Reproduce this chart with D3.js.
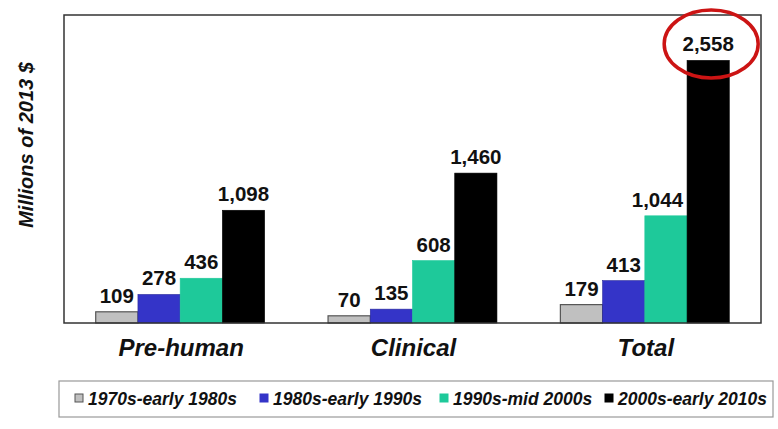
<!DOCTYPE html>
<html><head><meta charset="utf-8">
<script src="https://cdn.jsdelivr.net/npm/d3@7"></script>
<style>body{margin:0;background:#fff}svg{display:block}text{font-family:"Liberation Sans",Arial,sans-serif;font-weight:bold}</style>
</head><body><svg id="c" width="778" height="429"></svg>
<script>
const categories = ["Pre-human", "Clinical", "Total"];
const seriesNames = ["1970s-early 1980s", "1980s-early 1990s", "1990s-mid 2000s", "2000s-early 2010s"];
const s1970 = [109, 70, 179];
const s1980 = [278, 135, 413];
const s1990 = [436, 608, 1044];
const s2000 = [1098, 1460, 2558];
const seriesValues = [s1970, s1980, s1990, s2000];
const colors = ["#c0c0c0", "#3434c8", "#1ec99a", "#000000"];
const strokes = ["#555555", "#2a2a9a", "#1ec99a", "#000000"];
const yLabel = "Millions of 2013 $";

const svg = d3.select("#c");
const L = 64, R = 761, T = 15, B = 323;
const x0 = d3.scaleBand().domain(categories).range([L, R]).paddingInner(0.273).paddingOuter(0.1365);
const x1 = d3.scaleBand().domain(d3.range(seriesNames.length)).range([0, x0.bandwidth()]);
const y = d3.scaleLinear().domain([0, 3000]).range([B, T]);
const fmt = d3.format(",");

const g = svg.append("g");
categories.forEach((c, ci) => {
  seriesValues.forEach((vals, si) => {
    const v = vals[ci];
    const bx = x0(c) + x1(si);
    g.append("rect").attr("x", bx).attr("y", y(v)).attr("width", x1.bandwidth()).attr("height", B - y(v))
      .attr("fill", colors[si]).attr("stroke", strokes[si]).attr("stroke-width", si === 0 ? 1.2 : 0.6);
    const t = g.append("text").attr("y", y(v) - 9).attr("font-size", 20.5).attr("fill", "#111").text(fmt(v));
    const w = t.node().getComputedTextLength();
    const next = si + 1 < seriesValues.length ? seriesValues[si + 1][ci] : null;
    const cx = bx + x1.bandwidth() / 2;
    if (next !== null && y(next) < y(v) - 25 && cx + w / 2 > bx + x1.bandwidth()) {
      t.attr("x", bx + x1.bandwidth() - 4).attr("text-anchor", "end");
    } else {
      t.attr("x", cx).attr("text-anchor", "middle");
    }
  });
  svg.append("text").attr("x", x0(c) + x0.bandwidth() / 2 + 1).attr("y", 356).attr("text-anchor", "middle")
    .attr("font-size", 24).attr("font-style", "italic").attr("fill", "#111").text(c);
});

// plot frame
svg.append("rect").attr("x", L).attr("y", T).attr("width", R - L).attr("height", B - T)
  .attr("fill", "none").attr("stroke", "#333").attr("stroke-width", 1.5);

// y label
svg.append("text").attr("transform", "translate(33,145) rotate(-90)").attr("text-anchor", "middle")
  .attr("font-size", 20).attr("font-style", "italic").attr("fill", "#111").text(yLabel);

// highlight ellipse
const maxV = d3.max(s2000), maxI = s2000.indexOf(maxV);
svg.append("ellipse").attr("cx", x0(categories[maxI]) + x1(3) + x1.bandwidth() / 2 + 3).attr("cy", 44)
  .attr("rx", 47).attr("ry", 34).attr("fill", "none").attr("stroke", "#cc1414").attr("stroke-width", 3.5);

// legend
svg.append("rect").attr("x", 59).attr("y", 381).attr("width", 714).attr("height", 36)
  .attr("fill", "#fff").attr("stroke", "#999").attr("stroke-width", 1.2);
const legX = [75, 260, 440, 605];
seriesNames.forEach((n, i) => {
  svg.append("rect").attr("x", legX[i]).attr("y", 394).attr("width", 8).attr("height", 8)
    .attr("fill", colors[i]).attr("stroke", i === 0 ? "#555" : colors[i]).attr("stroke-width", 1);
  svg.append("text").attr("x", legX[i] + 13).attr("y", 404.5).attr("font-size", 17.5).attr("font-style", "italic")
    .attr("fill", "#111").text(n);
});
</script></body></html>
